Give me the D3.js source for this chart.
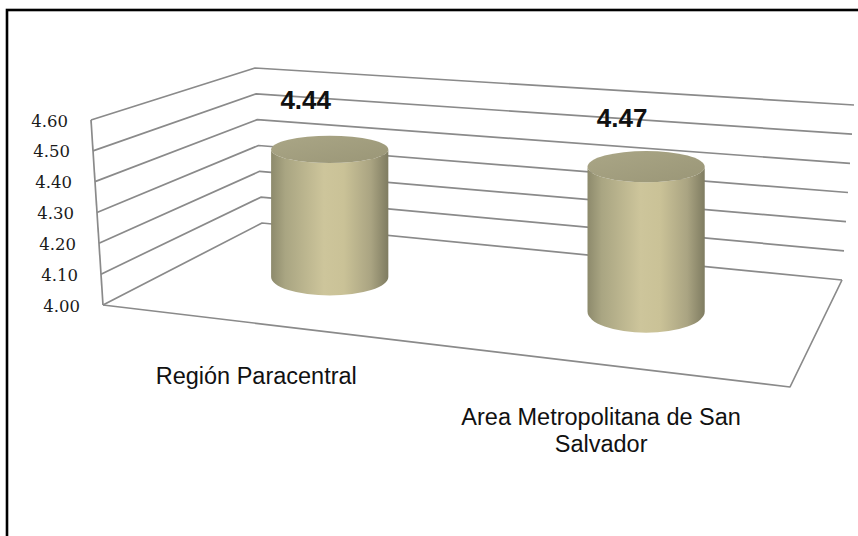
<!DOCTYPE html>
<html>
<head>
<meta charset="utf-8">
<script src="https://cdn.jsdelivr.net/npm/d3@7"></script>
<style>
  html, body { margin: 0; padding: 0; background: #fff; }
  svg { display: block; }
</style>
</head>
<body>
<svg id="chart" width="858" height="536"></svg>
<script>
// ---- data ----
const categories = ["Región Paracentral", "Area Metropolitana de San Salvador"];
const categoryLines = [["Región Paracentral"], ["Area Metropolitana de San", "Salvador"]];
const values = [4.44, 4.47];
const valueLabels = ["4.44", "4.47"];
const tickValues = [4.00, 4.10, 4.20, 4.30, 4.40, 4.50, 4.60];
const tickLabels = ["4.00", "4.10", "4.20", "4.30", "4.40", "4.50", "4.60"];

// ---- layout (3D box corners on screen) ----
const front = { l0: [103, 305], l1: [91, 120], r0: [790, 387], r1: [804, 178] };
const back  = { l0: [262, 223], l1: [255, 68], r0: [842, 280], r1: [854, 105] };

const svg = d3.select("#chart");
const W = 858, H = 536;

const vScale = d3.scaleLinear().domain([4.0, 4.6]).range([0, 1]);
const uScale = d3.scalePoint().domain(categories).range([-0.025, 0.979]).padding(0.5);

function lerp(a, b, t) { return [a[0] + (b[0] - a[0]) * t, a[1] + (b[1] - a[1]) * t]; }
function plane(p, u, v) {
  const l = lerp(p.l0, p.l1, v), r = lerp(p.r0, p.r1, v);
  return lerp(l, r, u);
}
function project(u, v, w) { return lerp(plane(front, u, v), plane(back, u, v), w); }

// frame
svg.append("rect").attr("x", 7).attr("y", 10).attr("width", W + 20).attr("height", H + 20)
  .attr("fill", "#fff").attr("stroke", "#000").attr("stroke-width", 2.6);

const defs = svg.append("defs");
const body = defs.append("linearGradient").attr("id", "bodyGrad").attr("x1", 0).attr("x2", 1).attr("y1", 0).attr("y2", 0);
[[0, "#8d8a6c"], [0.12, "#a9a582"], [0.45, "#cdc59b"], [0.62, "#cac297"], [0.85, "#aaa482"], [1, "#7f7c61"]]
  .forEach(s => body.append("stop").attr("offset", s[0]).attr("stop-color", s[1]));
const topG = defs.append("linearGradient").attr("id", "topGrad").attr("x1", 0).attr("x2", 1).attr("y1", 0).attr("y2", 1);
[[0, "#aaa686"], [1, "#9a9677"]].forEach(s => topG.append("stop").attr("offset", s[0]).attr("stop-color", s[1]));

const grid = svg.append("g").attr("fill", "none").attr("stroke", "#8a8a8a").attr("stroke-width", 1.7)
  .attr("stroke-linejoin", "round");
const line = d3.line();

// gridlines on left wall and back wall
tickValues.forEach(t => {
  const v = vScale(t);
  grid.append("path").attr("d", line([project(0, v, 0), project(0, v, 1), project(1, v, 1)]));
});
// front-left vertical edge
grid.append("path").attr("d", line([project(0, 0, 0), project(0, 1, 0)]));
// floor outline
grid.append("path").attr("d", line([project(1, 0, 1), project(1, 0, 0), project(0, 0, 0)]));

// tick labels
svg.append("g").selectAll("text").data(tickValues).join("text")
  .attr("x", d => project(0, vScale(d), 0)[0] - 23)
  .attr("y", d => project(0, vScale(d), 0)[1] + 2)
  .attr("text-anchor", "end").attr("dominant-baseline", "middle")
  .attr("font-family", "'DejaVu Serif', serif").attr("font-size", 16.5).attr("fill", "#1a1a1a")
  .text((d, i) => tickLabels[i]);

// cylinders
const depth = 0.53, rxFrac = 0.093, ryK = 0.21;
const cyl = svg.append("g");
categories.forEach((c, i) => {
  const u = uScale(c), v = vScale(values[i]);
  const B = project(u, 0, depth), T0 = project(u, v, depth);
  const T = [B[0], T0[1]];
  const rx = rxFrac * (project(1, 0, depth)[0] - project(0, 0, depth)[0]);
  const ryB = ryK * (project(u, 0, 0)[1] - project(u, 0, 1)[1]);
  const ryT = ryK * (project(u, v, 0)[1] - project(u, v, 1)[1]);
  const d = `M${T[0] - rx},${T[1]} L${B[0] - rx},${B[1]} A${rx},${ryB} 0 0 0 ${B[0] + rx},${B[1]} L${T[0] + rx},${T[1]} A${rx},${ryT} 0 0 1 ${T[0] - rx},${T[1]} Z`;
  cyl.append("path").attr("d", d).attr("fill", "url(#bodyGrad)");
  cyl.append("ellipse").attr("cx", T[0]).attr("cy", T[1]).attr("rx", rx).attr("ry", ryT)
    .attr("fill", "url(#topGrad)");
  // value label
  svg.append("text").attr("x", T[0] - 24).attr("y", T[1] - 40)
    .attr("text-anchor", "middle")
    .attr("font-family", "'Liberation Sans', Arial, sans-serif").attr("font-weight", "bold")
    .attr("font-size", 26).attr("fill", "#111").text(valueLabels[i]);
  // category label
  const F = project(u, 0, 0);
  const tx = svg.append("text").attr("text-anchor", "middle")
    .attr("font-family", "'Liberation Sans', Arial, sans-serif").attr("font-size", 23.5).attr("fill", "#111");
  categoryLines[i].forEach((ln, k) => {
    tx.append("tspan").attr("x", F[0] - 2).attr("y", F[1] + 60 + k * 27).text(ln);
  });
});
</script>
</body>
</html>
